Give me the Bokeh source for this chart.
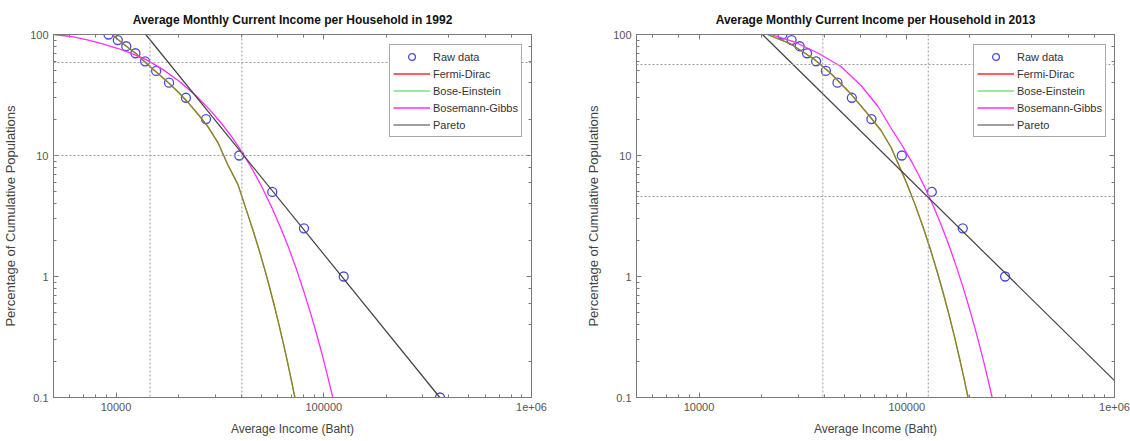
from bokeh.plotting import figure
from bokeh.models import (LogAxis, LogTicker, Span, Legend, LegendItem,
                          CustomJSTickFormatter, Range1d)
from bokeh.layouts import row
from bokeh.embed import file_html
from bokeh.resources import INLINE

# ---------------- data ----------------
pct_1992 = [100, 90, 80, 70, 60, 50, 40, 30, 20, 10, 5, 2.5, 1, 0.1]
income_1992 = [9200, 10200, 11200, 12400, 13800, 15600, 18000, 21700, 27100,
               39200, 56500, 80300, 124700, 362700]

fd_1992_x = [9570, 10220, 11170, 12480, 13940, 15920, 17990, 20070, 22420,
             25050, 27680, 30930, 34560, 38600, 43000, 46000, 49000, 52000,
             55000, 58000, 61000, 64000, 67000, 70000, 72600]
fd_1992_y = [100, 90.9, 80.4, 69.6, 58.1, 47.6, 39.6, 33.0, 27.0,
             21.5, 17.3, 12.8, 8.35, 5.77, 3.29, 2.31, 1.62, 1.14,
             0.80, 0.56, 0.393, 0.276, 0.194, 0.136, 0.1]
be_1992_x = fd_1992_x
be_1992_y = fd_1992_y
bg_1992_x = [5000, 6076, 7176, 8470, 10220, 12200, 14100, 16500, 20000, 24000,
             28000, 32000, 36000, 40000, 45000, 50000, 56000, 62000, 68000,
             74000, 80000, 86000, 92000, 98000, 104000, 110500]
bg_1992_y = [100, 96.3, 90.9, 84.3, 76.6, 68.4, 61.4, 52.5, 41.5, 31.8,
             24.3, 18.65, 14.3, 10.95, 7.85, 5.62, 3.77, 2.53, 1.70,
             1.14, 0.76, 0.51, 0.343, 0.23, 0.154, 0.1]
pareto_1992_x = [13900, 362000]
pareto_1992_y = [100, 0.1]
ref_x_1992 = [14570, 40350]
ref_y_1992 = [58.7, 10]

pct_2013 = [100, 90, 80, 70, 60, 50, 40, 30, 20, 10, 5, 2.5, 1]
income_2013 = [25200, 27900, 30500, 33100, 36600, 40800, 46400, 54400, 67600,
               94700, 132000, 186000, 297400]
fd_2013_x = [21330, 27640, 35700, 43140, 53870, 65840, 75200, 84070, 90000,
             100000, 110000, 120000, 130000, 140000, 150000, 160000, 170000,
             180000, 190000, 197300]
fd_2013_y = [100, 83.5, 62.8, 47.6, 32.2, 21.4, 16.1, 11.65, 8.93,
             5.88, 3.87, 2.54, 1.67, 1.10, 0.724, 0.477, 0.314,
             0.206, 0.136, 0.1]
be_2013_x = fd_2013_x
be_2013_y = fd_2013_y
bg_2013_x = [22130, 29230, 37740, 48220, 60220, 72730, 86000, 95000, 105000,
             115000, 125000, 135000, 145000, 155000, 165000, 175000, 185000,
             195000, 205000, 215000, 225000, 235000, 245000, 257700]
bg_2013_y = [100, 85.9, 69.7, 54.4, 37.9, 25.4, 15.8, 12.1, 9.04,
             6.73, 5.01, 3.73, 2.78, 2.07, 1.54, 1.146, 0.853,
             0.635, 0.473, 0.352, 0.262, 0.195, 0.145, 0.1]
pareto_2013_x = [20200, 1000000]
pareto_2013_y = [100, 0.138]
ref_x_2013 = [39450, 126900]
ref_y_2013 = [56.5, 4.58]

titles = ["Average Monthly Current Income per Household in 1992",
          "Average Monthly Current Income per Household in 2013"]
x_label = "Average Income (Baht)"
y_label = "Percentage of Cumulative Populations"
legend_labels = ["Raw data", "Fermi-Dirac", "Bose-Einstein", "Bosemann-Gibbs", "Pareto"]

FONT = "Liberation Sans"
FRAME = "#7a7a7a"


def make(title, inc, pct, fdx, fdy, bex, bey, bgx, bgy, parx, pary, rx, ry,
         width, mbl, mbr, legend_xy):
    p = figure(width=width, height=441, x_axis_type="log", y_axis_type="log",
               x_range=Range1d(5000, 1e6), y_range=Range1d(0.1, 100),
               output_backend="svg", toolbar_location=None,
               min_border_left=mbl, min_border_right=mbr,
               min_border_top=34, min_border_bottom=44,
               background_fill_color="white", border_fill_color="white")
    p.xgrid.visible = False
    p.ygrid.visible = False
    p.outline_line_color = FRAME
    p.outline_line_width = 1

    p.title.text = title
    p.title.text_font = FONT
    p.title.text_font_size = "12px"
    p.title.text_font_style = "bold"
    p.title.text_color = "#111111"
    p.title.align = "center"
    p.title.standoff = 15

    for ax in (p.xaxis[0], p.yaxis[0]):
        ax.axis_line_color = FRAME
        ax.major_tick_in = 5
        ax.major_tick_out = 0
        ax.minor_tick_in = 3
        ax.minor_tick_out = 0
        ax.major_tick_line_color = FRAME
        ax.minor_tick_line_color = FRAME
        ax.major_label_text_font = FONT
        ax.major_label_text_font_size = "11px"
        ax.major_label_text_color = "#555555"
        ax.axis_label_text_font = FONT
        ax.axis_label_text_font_style = "normal"
        ax.axis_label_text_color = "#444444"

    p.xaxis[0].formatter = CustomJSTickFormatter(
        code="return tick >= 999999 ? '1e+06' : String(Math.round(tick));")
    p.yaxis[0].formatter = CustomJSTickFormatter(
        code="return tick < 0.5 ? '0.1' : String(Math.round(tick));")
    p.xaxis[0].major_label_standoff = 5
    p.yaxis[0].major_label_standoff = 5
    p.xaxis[0].axis_label = x_label
    p.yaxis[0].axis_label = y_label
    p.xaxis[0].axis_label_text_font_size = "12px"
    p.yaxis[0].axis_label_text_font_size = "13px"
    p.xaxis[0].axis_label_standoff = 8
    p.yaxis[0].axis_label_standoff = 9

    for side in ("above", "right"):
        ax = LogAxis(ticker=LogTicker(),
                     formatter=CustomJSTickFormatter(code="return '';"),
                     major_label_standoff=0, major_tick_in=5, major_tick_out=0,
                     minor_tick_in=3, minor_tick_out=0,
                     axis_line_color=FRAME, major_tick_line_color=FRAME,
                     minor_tick_line_color=FRAME)
        p.add_layout(ax, side)

    for loc in rx:
        p.add_layout(Span(location=loc, dimension="height", line_color="#9a9a9a",
                          line_dash="2 2", line_width=1))
    for loc in ry:
        p.add_layout(Span(location=loc, dimension="width", line_color="#9a9a9a",
                          line_dash="2 2", line_width=1))

    r_raw = p.scatter(inc, pct, marker="circle", size=9, fill_color=None,
                      line_color="#4848ea", line_width=1.3)
    r_fd = p.line(fdx, fdy, line_color="#ff2a2a", line_width=1.3)
    r_be = p.line(bex, bey, line_color="#1fcf1f", line_width=1.3, line_alpha=0.6)
    r_bg = p.line(bgx, bgy, line_color="#ff2cff", line_width=1.3)
    r_pa = p.line(parx, pary, line_color="#404040", line_width=1.2)

    items = [LegendItem(label=l, renderers=[r])
             for l, r in zip(legend_labels, [r_raw, r_fd, r_be, r_bg, r_pa])]
    leg = Legend(items=items, location=legend_xy,
                 glyph_width=37, glyph_height=17, label_height=17,
                 spacing=0, padding=3, margin=0, label_standoff=3,
                 label_text_font=FONT, label_text_font_size="11px",
                 label_text_color="#333333",
                 border_line_color="#555555", border_line_width=1,
                 background_fill_color="white", background_fill_alpha=1)
    p.add_layout(leg)
    return p


p1 = make(titles[0], income_1992, pct_1992, fd_1992_x, fd_1992_y, be_1992_x, be_1992_y,
          bg_1992_x, bg_1992_y, pareto_1992_x, pareto_1992_y, ref_x_1992, ref_y_1992,
          565, 53, 34, (336, 260))
p2 = make(titles[1], income_2013, pct_2013, fd_2013_x, fd_2013_y, be_2013_x, be_2013_y,
          bg_2013_x, bg_2013_y, pareto_2013_x, pareto_2013_y, ref_x_2013, ref_y_2013,
          565, 71, 16, (337, 260))

layout = row(p1, p2, spacing=0)
open("out.html", "w").write(file_html(layout, INLINE))
